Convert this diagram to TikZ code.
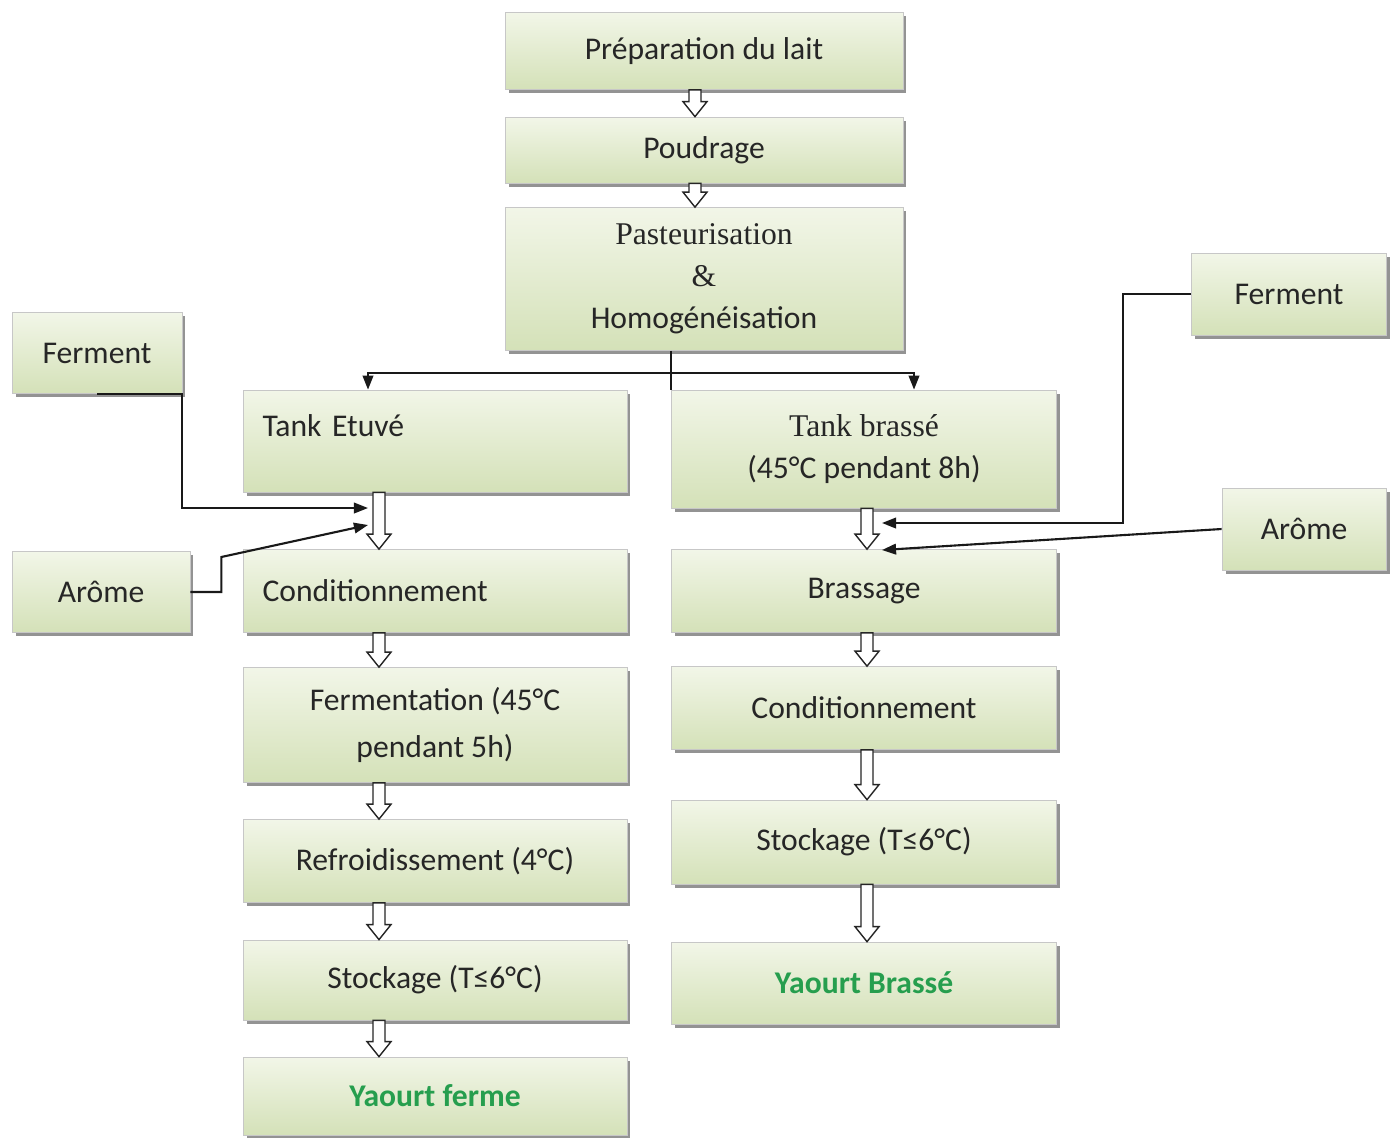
\documentclass[tikz,border=0pt]{standalone}
\usepackage{fontspec}
\setmainfont{Carlito}
\newfontfamily\timesfont{Liberation Serif}
\usetikzlibrary{arrows.meta,calc,shadows}
\definecolor{boxtop}{RGB}{242,246,232}
\definecolor{boxbot}{RGB}{212,225,184}
\definecolor{yaourt}{RGB}{38,158,78}
\newcommand{\flowarrow}[3]{%
  \path (#1.south -| #3) coordinate (ha) (#2.north -| #3) coordinate (hb);
  \draw[hollow] ($(ha)+(-6,0)$) -- ($(hb)+(-6,-15)$) -- ($(hb)+(-12,-15)$) -- (hb)
    -- ($(hb)+(12,-15)$) -- ($(hb)+(6,-15)$) -- ($(ha)+(6,0)$) -- cycle;}

\begin{document}
\begin{tikzpicture}[x=0.02cm,y=-0.02cm,>={Triangle[width=6pt,length=8pt]},
  stepbox/.style={draw=black!22,top color=boxtop,bottom color=boxbot,
    minimum width=7.68cm,minimum height=1.66cm,inner sep=2pt,align=center,
    font=\fontsize{18}{24}\selectfont,text=black!85,
    drop shadow={shadow xshift=2pt,shadow yshift=-2pt,fill=black!60,opacity=0.7}},
  sidebox/.style={stepbox,minimum width=3.4cm,minimum height=1.62cm},
  conn/.style={line width=1.2pt,black!90},
  hollow/.style={draw=black!85,fill=white,line width=0.8pt,line join=miter}]
\fill[white] (0,0) rectangle (1392,1137);
\useasboundingbox (0,0) rectangle (1392,1137);

\node[stepbox,minimum width=7.96cm,minimum height=1.54cm] (prep) at (704,51) {Préparation du lait};
\node[stepbox,minimum width=7.96cm,minimum height=1.32cm] (poud) at (704,150) {Poudrage};
\node[stepbox,minimum width=7.96cm,minimum height=2.86cm] (past) at (704,279)
  {{\timesfont Pasteurisation}\\{\timesfont\&}\\Homogénéisation};

% yaourt ferme
\node[stepbox,minimum height=2.04cm,text width=6.9cm,align=left,text depth=0.62cm] (tetuve) at (435,441) {Tank Etuvé};
\node[stepbox,text width=6.9cm,align=left] (cond1) at (435,591) {Conditionnement};
\node[stepbox,minimum height=2.3cm] (ferm1) at (435,725) {Fermentation (45°C\\[3pt]pendant 5h)};
\node[stepbox] (refr) at (435,861) {Refroidissement (4°C)};
\node[stepbox,minimum height=1.6cm] (stock1) at (435,980) {Stockage (T≤6°C)};
\node[stepbox,minimum height=1.56cm,font=\fontsize{18}{24}\selectfont\bfseries,text=yaourt] (yferme) at (435,1096) {Yaourt ferme};

% yaourt brasse
\node[stepbox,minimum width=7.7cm,minimum height=2.36cm] (tbrasse) at (864,449)
  {{\timesfont Tank brassé}\\(45°C pendant 8h)};
\node[stepbox,minimum width=7.7cm] (brassage) at (864,591) {Brassage};
\node[stepbox,minimum width=7.7cm] (cond2) at (864,708) {Conditionnement};
\node[stepbox,minimum width=7.7cm,minimum height=1.68cm] (stock2) at (864,842) {Stockage (T≤6°C)};
\node[stepbox,minimum width=7.7cm,minimum height=1.64cm,font=\fontsize{18}{24}\selectfont\bfseries,text=yaourt] (ybrasse) at (864,983) {Yaourt Brassé};

\node[sidebox] (fermL) at (97,353) {Ferment};
\node[sidebox,minimum width=3.56cm] (aromeL) at (101,592) {Arôme};
\node[sidebox,minimum width=3.9cm,minimum height=1.64cm] (fermR) at (1289,294) {Ferment};
\node[sidebox,minimum width=3.28cm,minimum height=1.64cm] (aromeR) at (1304,529) {Arôme};

\coordinate (top) at (695,0);
\coordinate (lc) at (379,0);
\coordinate (rc) at (867,0);
\coordinate (jl) at (368,373);
\coordinate (jr) at (914,373);
\coordinate (ftip) at (368,508);
\coordinate (atip) at (368,525);
\coordinate (rtip1) at (882,523);
\coordinate (rtip2) at (882,550);

\draw[conn] (past.south -| tbrasse.north west) -- (tbrasse.north west);
\draw[conn,<->] (jl |- tetuve.north) -- (jl) -- (jr) -- (jr |- tbrasse.north);

\draw[conn,->] (fermL.south) -- (fermL.south east) |- (ftip);
\draw[conn,->] (aromeL.east) -- ++(31,0) -- ++(0,-35) -- (atip);
\draw[conn,->] (fermR.west) -- ++(-68,0) |- (rtip1);
\draw[conn,->] (aromeR.west) -- (rtip2);

\flowarrow{prep}{poud}{top}
\flowarrow{poud}{past}{top}
\flowarrow{tetuve}{cond1}{lc}
\flowarrow{cond1}{ferm1}{lc}
\flowarrow{ferm1}{refr}{lc}
\flowarrow{refr}{stock1}{lc}
\flowarrow{stock1}{yferme}{lc}
\flowarrow{tbrasse}{brassage}{rc}
\flowarrow{brassage}{cond2}{rc}
\flowarrow{cond2}{stock2}{rc}
\flowarrow{stock2}{ybrasse}{rc}
\end{tikzpicture}
\end{document}
